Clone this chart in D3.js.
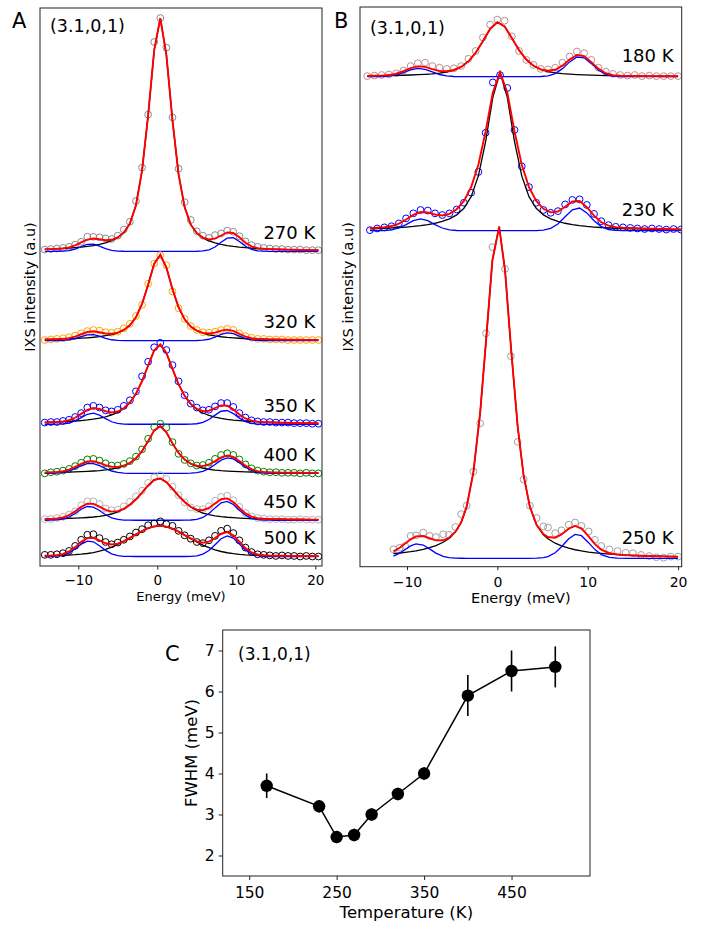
<!DOCTYPE html>
<html>
<head>
<meta charset="utf-8">
<script src="https://cdn.jsdelivr.net/npm/d3@7"></script>
<style>
  body { margin: 0; background: #fff; }
  svg { display: block; }
  text { font-family: "DejaVu Sans", sans-serif; fill: #000; }
</style>
</head>
<body>
<div id="chart"></div>
<script>
// ---------------- Panel A: IXS spectra at (3.1,0,1), 270–500 K ----------------
const energyA = [-14.25, -13.48, -12.71, -11.94, -11.17, -10.40, -9.63, -8.86, -8.09, -7.32,
  -6.55, -5.78, -5.01, -4.24, -3.47, -2.70, -1.93, -1.16, -0.39, 0.38,
  1.15, 1.92, 2.69, 3.46, 4.23, 5.00, 5.77, 6.54, 7.31, 8.08,
  8.85, 9.62, 10.39, 11.16, 11.93, 12.70, 13.47, 14.24, 15.01, 15.78,
  16.55, 17.32, 18.09, 18.86, 19.63, 20.40];
const tempsA = ["270 K", "320 K", "350 K", "400 K", "450 K", "500 K"];
// measured intensities above each spectrum's offset (a.u.)
const counts270 = [0.3,0.4,0.5,0.6,0.8,1.2,1.7,2.6,2.6,2.5, 2.3,2.2,2.8,3.9,5.3,9.0,15.0,24.5,37.5,41.8,
  36.5,24.0,14.8,8.8,5.6,3.6,2.8,2.4,2.9,3.2, 3.7,3.5,2.7,1.8,1.1,0.8,0.6,0.5,0.4,0.4, 0.3,0.3,0.3,0.2,0.2,0.2];
const counts320 = [0.1,0.2,0.3,0.4,0.6,0.9,1.3,1.7,1.9,1.8, 1.5,1.4,1.6,2.2,3.0,4.4,6.4,10.2,13.8,15.3,
  13.5,8.8,5.8,3.9,2.6,1.9,1.5,1.4,1.6,1.9, 2.1,1.9,1.3,0.8,0.5,0.3,0.3,0.2,0.2,0.2, 0.1,0.1,0.1,0.1,0.1,0.1];
const counts350 = [0.3,0.4,0.4,0.6,0.8,1.3,2.0,3.0,3.3,3.0, 2.5,2.3,2.6,3.3,4.3,5.9,8.6,11.2,13.8,14.6,
  13.3,10.6,7.7,5.2,3.7,3.0,2.5,2.6,3.2,3.8, 3.8,3.1,2.0,1.2,0.7,0.5,0.4,0.4,0.3,0.3, 0.3,0.2,0.2,0.2,0.1,0.1];
const counts400 = [0.0,0.2,0.3,0.5,0.8,1.3,1.9,2.5,2.6,2.3, 1.8,1.4,1.4,1.7,2.2,3.0,4.3,6.2,8.3,8.9,
  8.2,5.6,3.5,2.4,1.8,1.4,1.5,1.9,2.6,3.3, 3.6,3.3,2.5,1.6,0.9,0.5,0.3,0.2,0.2,0.1, 0.1,0.1,0.0,0.1,0.0,0.0];
const counts450 = [0.2,0.2,0.4,0.6,1.0,1.6,2.7,3.4,3.4,2.9, 2.1,1.8,1.9,2.5,3.3,4.3,5.3,6.7,7.7,8.1,
  7.4,6.0,4.5,3.2,2.3,2.0,2.0,2.5,3.5,4.2, 4.4,3.6,2.4,1.3,0.7,0.4,0.3,0.2,0.2,0.2, 0.1,0.1,0.2,0.1,0.1,0.1];
const counts500 = [0.3,0.3,0.4,0.6,1.0,1.9,3.0,3.9,4.0,3.3, 2.6,2.2,2.5,3.0,3.6,4.3,4.9,5.6,5.9,6.3,
  5.8,5.5,4.6,3.8,3.2,2.6,2.4,2.9,3.7,4.6, 5.0,4.2,2.9,1.6,0.8,0.4,0.3,0.2,0.1,0.2, 0.1,0.1,0.0,0.1,0.0,0.0];
const countsA = [counts270, counts320, counts350, counts400, counts450, counts500];
// vertical offsets and fit parameters (central line: pseudo-Voigt, phonons: Gaussians)
const offsetA = [56.4, 40.4, 25.4, 16.6, 8.2, 1.7];
const centralAmpA = [41.8, 15.4, 14.3, 8.5, 7.5, 5.5];
const centralPosA = [0.35, 0.3, 0.3, 0.3, 0.2, 0.3];
const centralHwhmA = [1.75, 1.95, 2.4, 2.1, 2.9, 4.5];
const centralLorentzA = [0.6, 0.75, 0.85, 0.85, 0.7, 0.3];
const phononLowPosA = [-8.4, -8.4, -8.2, -8.5, -8.6, -8.6];
const phononLowAmpA = [1.3, 1.1, 2.0, 1.8, 2.5, 2.8];
const phononHighPosA = [9.3, 9.0, 8.6, 9.0, 8.7, 8.9];
const phononHighAmpA = [2.5, 1.4, 2.5, 2.8, 3.4, 3.7];
const phononSigmaA = [1.3, 1.3, 1.4, 1.6, 1.5, 1.5];
const markerColorsA = ["#8a8a8a", "#ffa500", "#0000ff", "#008000", "#b4b4b4", "#000000"];

// ---------------- Panel B: 180, 230, 250 K ----------------
const energy180 = [-14.4, -13.6, -12.8, -12.0, -11.2, -10.4, -9.6, -8.8, -8.0, -7.2,
  -6.4, -5.6, -4.8, -4.0, -3.2, -2.4, -1.6, -0.8, 0.0, 0.8,
  1.6, 2.4, 3.2, 4.0, 4.8, 5.6, 6.4, 7.2, 8.0, 8.8,
  9.6, 10.4, 11.2, 12.0, 12.8, 13.6, 14.4, 15.2, 16.0, 16.8,
  17.6, 18.4, 19.2, 20.0];
const energy230 = [-14.1, -13.3, -12.5, -11.7, -10.9, -10.1, -9.3, -8.5, -7.7, -6.9,
  -6.1, -5.3, -4.5, -3.7, -2.9, -2.1, -1.3, -0.5, 0.3, 1.1,
  1.9, 2.7, 3.5, 4.3, 5.1, 5.9, 6.7, 7.5, 8.3, 9.1,
  9.9, 10.7, 11.5, 12.3, 13.1, 13.9, 14.7, 15.5, 16.3, 17.1,
  17.9, 18.7, 19.5, 20.3];
const energy250 = [-11.5, -10.8, -10.2, -9.6, -9.0, -8.2, -7.5, -6.8, -6.0, -5.35,
  -4.65, -4.0, -3.4, -2.65, -1.9, -1.25, -0.55, 0.85, 1.5,
  2.25, 2.9, 3.6, 4.35, 5.1, 5.6, 6.4, 7.1, 7.9, 8.6,
  9.3, 10.1, 10.8, 11.5, 12.4, 13.3, 14.2, 15.0, 15.9, 16.8,
  17.6, 18.4, 19.2, 20.0];
// energies at which the 250 K fit was evaluated
const fitEnergy250 = [-11.5, -10.8, -10.2, -9.6, -9.0, -8.2, -7.5, -6.8, -6.0, -5.35,
  -4.65, -4.0, -3.4, -2.65, -1.9, -1.25, -0.55, 0.2, 0.85, 1.5,
  2.25, 2.9, 3.6, 4.35, 5.1, 5.6, 6.4, 7.1, 7.9, 8.6,
  9.3, 10.1, 10.8, 11.5, 12.4, 13.3, 14.2, 15.0, 15.9, 16.8,
  17.6, 18.4, 19.2, 20.0];
const tempsB = ["180 K", "230 K", "250 K"];
const counts180 = [0.1,0.2,0.3,0.4,0.6,1.1,1.9,2.4,2.5,1.9, 1.6,1.4,1.5,1.9,3.2,4.6,7.0,9.3,10.2,10.0,
  7.2,4.6,3.0,2.1,1.4,1.3,1.6,2.5,3.6,4.5, 4.2,3.0,1.6,0.9,0.5,0.3,0.2,0.3,0.1,0.2, 0.1,0.1,0.1,0.1];
const counts230 = [0.1,0.4,0.6,0.8,1.3,2.2,3.1,3.7,3.6,3.1, 2.8,3.1,3.8,5.0,6.8,10.5,17.5,26.5,27.8,25.5,
  18.0,11.5,7.8,5.0,3.7,3.2,3.5,4.7,5.5,5.6, 4.6,3.0,1.7,1.0,0.7,0.6,0.5,0.4,0.3,0.4, 0.3,0.2,0.3,0.2];
const counts250 = [1.6,1.9,2.2,4.0,4.1,4.6,4.0,3.8,4.3,4.2, 5.6,7.9,9.4,15.5,24.1,40.2,55.6,51.7,36.1,
  20.8,14.1,9.4,7.2,5.7,5.5,4.5,5.0,6.0,6.4, 5.8,4.8,3.3,2.2,1.6,1.3,1.0,0.9,0.6,0.4, 0.2,0.1,0.3,0.3];
const energiesB = [energy180, energy230, energy250];
const fitEnergiesB = [energy180, energy230, fitEnergy250];
const countsB = [counts180, counts230, counts250];
const offsetB = [87.55, 60.03, 1.5];
const centralAmpB = [9.75, 28.3, 59.4];
const centralPosB = [0.1, 0.3, 0.1];
const centralHwhmB = [2.25, 1.8, 1.8];
const centralLorentzB = [0.6, 0.8, 0.6];
const totalHwhmB = [2.25, 2.05, 1.8];       // central width used in the total fit
const totalLorentzB = [0.6, 0.85, 0.6];
const phononLowPosB = [-8.7, -8.5, -8.8];
const phononLowAmpB = [1.5, 2.1, 2.6];
const phononHighPosB = [9.1, 8.9, 8.8];
const phononHighAmpB = [3.6, 4.1, 4.3];
const phononSigmaB = [1.4, 1.4, 1.4];
const markerColorsB = ["#bc8f8f", "#0000ff", "#a0a0a0"];

// ---------------- Panel C: central-peak FWHM vs temperature ----------------
const temperatureC = [170, 230, 250, 270, 290, 320, 350, 400, 450, 500];
const fwhmC = [3.7, 3.2, 2.45, 2.5, 3.0, 3.5, 4.0, 5.9, 6.5, 6.6];
const fwhmErrC = [0.3, 0.15, 0.15, 0.15, 0.15, 0.15, 0.15, 0.5, 0.5, 0.5];
const xTicksC = [150, 250, 350, 450];
const yTicksC = [2, 3, 4, 5, 6, 7];
const energyTicks = [-10, 0, 10, 20];

// ---------------- drawing ----------------
const svg = d3.select("#chart").append("svg").attr("width", 712).attr("height", 925);

function pseudoVoigt(x, hwhm, eta) {
  const r = (x / hwhm) * (x / hwhm);
  return eta / (1 + r) + (1 - eta) * Math.exp(-Math.LN2 * r);
}
function gaussian(x, sigma) { return Math.exp(-x * x / (2 * sigma * sigma)); }
const minusFmt = d => d < 0 ? "\u2212" + (-d) : String(d);

function drawSpectraPanel(p) {
  const g = svg.append("g");
  const x = d3.scaleLinear().domain(p.xDomain).range([p.left, p.right]);
  const y = d3.scaleLinear().domain([0, 100]).range([p.bottom, p.top]);
  const clipId = "clip-" + p.id;
  svg.append("clipPath").attr("id", clipId).append("rect")
    .attr("x", p.left).attr("y", p.top).attr("width", p.right - p.left).attr("height", p.bottom - p.top);
  const plot = g.append("g").attr("clip-path", `url(#${clipId})`);
  const line = d3.line().x(d => x(d[0])).y(d => y(d[1]));

  p.spectra.forEach(sp => {
    // measured points
    plot.append("g").selectAll("circle")
      .data(sp.energies.map((e, i) => [e, sp.offset + sp.counts[i]]))
      .join("circle")
      .attr("cx", d => x(d[0])).attr("cy", d => y(d[1])).attr("r", 3.4)
      .attr("fill", "none").attr("stroke", sp.color).attr("stroke-width", 1);

    // fit components evaluated on the scan energies
    const grid = sp.fitEnergies;
    const phon = e => sp.lowAmp * gaussian(e - sp.lowPos, sp.sigma) + sp.highAmp * gaussian(e - sp.highPos, sp.sigma);
    const central = e => sp.cAmp * pseudoVoigt(e - sp.cPos, sp.cHwhm, sp.cEta);
    const centralTotal = e => sp.cAmp * pseudoVoigt(e - sp.cPos, sp.tHwhm, sp.tEta);
    plot.append("path").datum(grid.map(e => [e, sp.offset + central(e)]))
      .attr("d", line).attr("fill", "none").attr("stroke", "#000").attr("stroke-width", 1.3);
    plot.append("path").datum(grid.map(e => [e, sp.offset + phon(e)]))
      .attr("d", line).attr("fill", "none").attr("stroke", "#0000ff").attr("stroke-width", 1.3);
    plot.append("path").datum(grid.map(e => [e, sp.offset + centralTotal(e) + phon(e)]))
      .attr("d", line).attr("fill", "none").attr("stroke", "#ff0000").attr("stroke-width", 1.9)
      .attr("stroke-linejoin", "miter");

    g.append("text").attr("x", x(p.labelE)).attr("y", y(sp.offset + p.labelLift))
      .attr("text-anchor", "end").attr("font-size", 18).text(sp.label);
  });

  g.append("rect").attr("x", p.left).attr("y", p.top)
    .attr("width", p.right - p.left).attr("height", p.bottom - p.top)
    .attr("fill", "none").attr("stroke", "#222").attr("stroke-width", 1);

  const ax = g.append("g").attr("transform", `translate(0,${p.bottom})`)
    .call(d3.axisBottom(x).tickValues(energyTicks).tickSize(3.5).tickPadding(p.tickPad).tickFormat(minusFmt));
  ax.select(".domain").remove();
  ax.selectAll("line").attr("stroke", "#222");
  ax.selectAll("text").attr("font-size", p.tickFont).attr("font-family", "DejaVu Sans").attr("fill", "#000");

  g.append("text").attr("x", (p.left + p.right) / 2).attr("y", p.xLabelY)
    .attr("text-anchor", "middle").attr("font-size", p.labelFont).text("Energy (meV)");
  g.append("text").attr("transform", `translate(${p.yLabelX},${(p.top + p.bottom) / 2}) rotate(-90)`)
    .attr("text-anchor", "middle").attr("font-size", 14.5).text("IXS intensity (a.u)");
  g.append("text").attr("x", p.left + 10).attr("y", p.qY).attr("font-size", 17.5).text("(3.1,0,1)");
  g.append("text").attr("x", p.letterX).attr("y", 27.5).attr("font-size", 21).text(p.letter);
}

const spectraA = tempsA.map((t, i) => ({
  label: t, energies: energyA, fitEnergies: energyA, counts: countsA[i], offset: offsetA[i], color: markerColorsA[i],
  cAmp: centralAmpA[i], cPos: centralPosA[i], cHwhm: centralHwhmA[i], cEta: centralLorentzA[i],
  tHwhm: centralHwhmA[i], tEta: centralLorentzA[i],
  lowPos: phononLowPosA[i], lowAmp: phononLowAmpA[i], highPos: phononHighPosA[i], highAmp: phononHighAmpA[i],
  sigma: phononSigmaA[i]
}));
const spectraB = tempsB.map((t, i) => ({
  label: t, energies: energiesB[i], fitEnergies: fitEnergiesB[i], counts: countsB[i], offset: offsetB[i], color: markerColorsB[i],
  cAmp: centralAmpB[i], cPos: centralPosB[i], cHwhm: centralHwhmB[i], cEta: centralLorentzB[i],
  tHwhm: totalHwhmB[i], tEta: totalLorentzB[i],
  lowPos: phononLowPosB[i], lowAmp: phononLowAmpB[i], highPos: phononHighPosB[i], highAmp: phononHighAmpB[i],
  sigma: phononSigmaB[i]
}));

drawSpectraPanel({ id: "A", left: 40, right: 322, top: 8, bottom: 566, xDomain: [-14.85, 20.85],
  spectra: spectraA, labelE: 20, labelLift: 2.2, tickPad: 5.5, tickFont: 13.5, labelFont: 13,
  xLabelY: 601, yLabelX: 35, qY: 32, letter: "A", letterX: 12 });
drawSpectraPanel({ id: "B", left: 360, right: 681.7, top: 7, bottom: 566.7, xDomain: [-15.2, 20.4],
  spectra: spectraB, labelE: 19.5, labelLift: 2.6, tickPad: 6.5, tickFont: 14, labelFont: 14.5,
  xLabelY: 603, yLabelX: 353, qY: 34, letter: "B", letterX: 334 });

// Panel C
(function () {
  const left = 222.7, right = 590, top = 630, bottom = 876;
  const g = svg.append("g");
  const x = d3.scaleLinear().domain([119.7, 539.7]).range([left, right]);
  const y = d3.scaleLinear().domain([1.5, 7.5]).range([bottom, top]);
  const pts = temperatureC.map((t, i) => ({ t, v: fwhmC[i], e: fwhmErrC[i] }));

  g.append("rect").attr("x", left).attr("y", top).attr("width", right - left).attr("height", bottom - top)
    .attr("fill", "none").attr("stroke", "#222").attr("stroke-width", 1);

  g.append("g").selectAll("line").data(pts).join("line")
    .attr("x1", d => x(d.t)).attr("x2", d => x(d.t))
    .attr("y1", d => y(d.v - d.e)).attr("y2", d => y(d.v + d.e))
    .attr("stroke", "#000").attr("stroke-width", 1.6);
  g.append("path").datum(pts).attr("d", d3.line().x(d => x(d.t)).y(d => y(d.v)))
    .attr("fill", "none").attr("stroke", "#000").attr("stroke-width", 1.5);
  g.append("g").selectAll("circle").data(pts).join("circle")
    .attr("cx", d => x(d.t)).attr("cy", d => y(d.v)).attr("r", 6.2).attr("fill", "#000");

  const bx = g.append("g").attr("transform", `translate(0,${bottom})`)
    .call(d3.axisBottom(x).tickValues(xTicksC).tickSize(4).tickPadding(6.5).tickFormat(d3.format("d")));
  const ly = g.append("g").attr("transform", `translate(${left},0)`)
    .call(d3.axisLeft(y).tickValues(yTicksC).tickSize(4).tickPadding(4).tickFormat(d3.format("d")));
  [bx, ly].forEach(a => {
    a.select(".domain").remove();
    a.selectAll("line").attr("stroke", "#222");
    a.selectAll("text").attr("font-size", 15.5).attr("font-family", "DejaVu Sans").attr("fill", "#000");
  });

  g.append("text").attr("x", (left + right) / 2).attr("y", 918).attr("text-anchor", "middle")
    .attr("font-size", 16.5).text("Temperature (K)");
  g.append("text").attr("transform", `translate(197,${(top + bottom) / 2}) rotate(-90)`)
    .attr("text-anchor", "middle").attr("font-size", 16.5).text("FWHM (meV)");
  g.append("text").attr("x", 238).attr("y", 660).attr("font-size", 17).text("(3.1,0,1)");
  g.append("text").attr("x", 165).attr("y", 661).attr("font-size", 21).text("C");
})();
</script>
</body>
</html>
